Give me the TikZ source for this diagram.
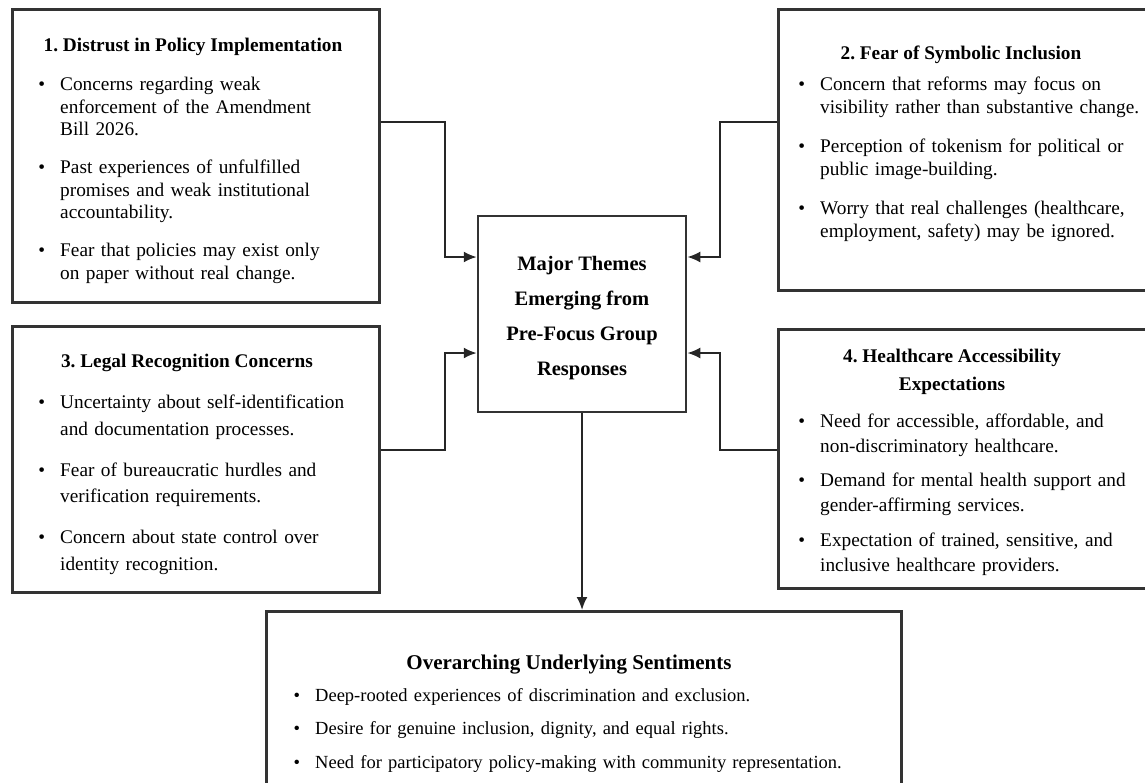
\documentclass[tikz,border=0pt]{standalone}
\usepackage{fontspec}
\setmainfont{Liberation Serif}
\usepackage{enumitem}
\usetikzlibrary{arrows.meta}

\setlist[itemize]{label=\textbullet, leftmargin=22pt, labelsep=15pt,
  topsep=0pt, partopsep=0pt, parsep=0pt, itemsep=0pt}
\frenchspacing

\begin{document}
\begin{tikzpicture}[x=1pt, y=-1pt,
  themebox/.style={draw=black!80, line width=2.5pt, anchor=north west, inner sep=0pt},
  boxtitle/.style={font=\bfseries\fontsize{19.3}{28}\selectfont, align=center, inner sep=0pt},
  boxlist/.style={anchor=north west, inner sep=0pt, text width=360pt},
  link/.style={line width=2pt, draw=black!85, -{Latex[length=13pt,width=11pt]}}]
\useasboundingbox (0,0) rectangle (1145,782);

% Outer boxes
\node[themebox, minimum width=367pt, minimum height=293pt] (b1) at (11,8) {};
\node[themebox, minimum width=380pt, minimum height=281pt] (b2) at (777,8) {};
\node[themebox, minimum width=367pt, minimum height=266pt] (b3) at (11,325) {};
\node[themebox, minimum width=380pt, minimum height=259pt] (b4) at (777,328) {};
\node[themebox, minimum width=635pt, minimum height=185pt] (ov) at (265,610) {};

% Central box
\node[themebox, anchor=center, minimum width=208pt, minimum height=196pt] (mt) at (582,314) {};
\node[font=\bfseries\fontsize{20.5}{35}\selectfont, align=center] (mtxt) at (582,318)
  {Major Themes\\Emerging from\\Pre-Focus Group\\Responses};

% Titles
\node[boxtitle] (t1) at (193,47) {1. Distrust in Policy Implementation};
\node[boxtitle] (t2) at (961,55) {2. Fear of Symbolic Inclusion};
\node[boxtitle] (t3) at (187,363) {3. Legal Recognition Concerns};
\node[boxtitle] (t4) at (952,372) {4. Healthcare Accessibility\\Expectations};
\node[boxtitle, font=\bfseries\fontsize{21}{28}\selectfont] (to) at (569,665) {Overarching Underlying Sentiments};

% Bullet lists
\node[boxlist, font=\fontsize{19.3}{22.5}\selectfont] (l1) at (38,68) {%
  \begin{itemize}[itemsep=15.5pt]
  \item Concerns regarding weak\\enforcement of the Amendment\\Bill 2026.
  \item Past experiences of unfulfilled\\promises and weak institutional\\accountability.
  \item Fear that policies may exist only\\on paper without real change.
  \end{itemize}};
\node[boxlist, font=\fontsize{19.3}{22.5}\selectfont] (l2) at (798,68) {%
  \begin{itemize}[itemsep=17pt]
  \item Concern that reforms may focus on\\visibility rather than substantive change.
  \item Perception of tokenism for political or\\public image-building.
  \item Worry that real challenges (healthcare,\\employment, safety) may be ignored.
  \end{itemize}};
\node[boxlist, font=\fontsize{19.3}{26.5}\selectfont] (l3) at (38,382) {%
  \begin{itemize}[itemsep=14.5pt]
  \item Uncertainty about self-identification\\and documentation processes.
  \item Fear of bureaucratic hurdles and\\verification requirements.
  \item Concern about state control over\\identity recognition.
  \end{itemize}};
\node[boxlist, font=\fontsize{19.3}{25}\selectfont] (l4) at (798,402) {%
  \begin{itemize}[itemsep=9.5pt]
  \item Need for accessible, affordable, and\\non-discriminatory healthcare.
  \item Demand for mental health support and\\gender-affirming services.
  \item Expectation of trained, sensitive, and\\inclusive healthcare providers.
  \end{itemize}};
\node[boxlist, text width=640pt, font=\fontsize{18.5}{24}\selectfont] (lo) at (293,677) {%
  \begin{itemize}[itemsep=9.5pt]
  \item Deep-rooted experiences of discrimination and exclusion.
  \item Desire for genuine inclusion, dignity, and equal rights.
  \item Need for participatory policy-making with community representation.
  \end{itemize}};

% Connectors
\draw[link] ([yshift=-114pt]b1.north east) -- ++(64,0) |- ([yshift=57pt]mt.west);
\draw[link] ([yshift=-125pt]b3.north east) -- ++(64,0) |- ([yshift=-39pt]mt.west);
\draw[link] ([yshift=-114pt]b2.north west) -- ++(-57,0) |- ([yshift=57pt]mt.east);
\draw[link] ([yshift=-122pt]b4.north west) -- ++(-57,0) |- ([yshift=-39pt]mt.east);
\draw[link] (mt.south) -- (mt.south |- ov.north);
\end{tikzpicture}
\end{document}
